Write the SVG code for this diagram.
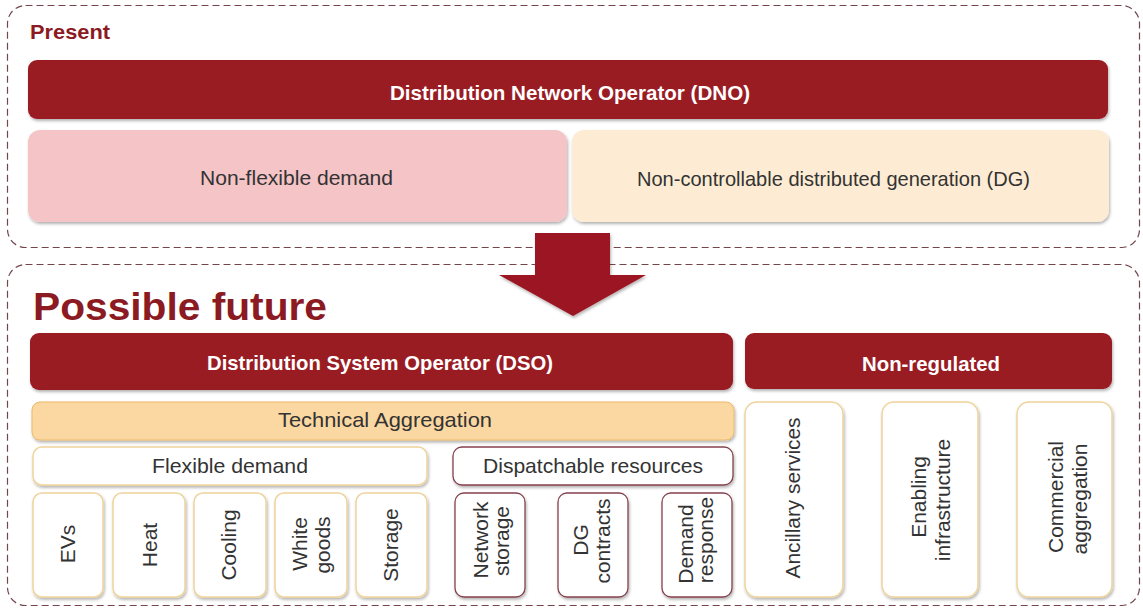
<svg xmlns="http://www.w3.org/2000/svg" width="1143" height="609" viewBox="0 0 1143 609">
  <defs>
    <filter id="shadow" x="-5%" y="-10%" width="110%" height="130%">
      <feDropShadow dx="1" dy="2" stdDeviation="1.5" flood-color="#000" flood-opacity="0.3"/>
    </filter>
  </defs>
  <style>
    text { font-family: "Liberation Sans", Arial, sans-serif; }
    .frame { fill: #ffffff; stroke: #74464c; stroke-width: 1.2; stroke-dasharray: 7 4; }
    .bar { fill: #991a21; filter: url(#shadow); }
    .bar-label { fill: #ffffff; font-size: 20.5px; font-weight: bold; }
    .heading { fill: #8c1a22; font-weight: bold; }
    .pink { fill: #f5c4c6; filter: url(#shadow); }
    .cream { fill: #fdecd3; filter: url(#shadow); }
    .agg { fill: #fbd8a1; stroke: #ecb968; stroke-width: 1; filter: url(#shadow); }
    .tan { fill: #ffffff; stroke: #efd49c; stroke-width: 1.5; filter: url(#shadow); }
    .mauve { fill: #ffffff; stroke: #85424f; stroke-width: 1.3; filter: url(#shadow); }
    .label { fill: #333333; font-size: 21px; }
    .vlabel { fill: #333333; font-size: 21px; text-anchor: middle; }
    .arrow { fill: #9b1720; filter: url(#shadow); }
  </style>

  <!-- Present section -->
  <g id="present">
    <rect class="frame" x="7.5" y="5.5" width="1132" height="242" rx="18"/>
    <text class="heading" x="30" y="39" font-size="20" textLength="80" lengthAdjust="spacingAndGlyphs">Present</text>
  </g>
  <g id="dno">
    <rect class="bar" x="28" y="60" width="1080" height="59" rx="9"/>
    <text class="bar-label" x="390" y="100" textLength="360" lengthAdjust="spacingAndGlyphs">Distribution Network Operator (DNO)</text>
  </g>
  <g id="non-flexible-demand">
    <rect class="pink" x="28" y="130" width="539" height="92" rx="12"/>
    <text class="label" x="200" y="185" textLength="193" lengthAdjust="spacingAndGlyphs">Non-flexible demand</text>
  </g>
  <g id="non-controllable-dg">
    <rect class="cream" x="572" y="130" width="537" height="92" rx="12"/>
    <text class="label" x="637" y="186" textLength="393" lengthAdjust="spacingAndGlyphs">Non-controllable distributed generation (DG)</text>
  </g>

  <!-- Possible future section -->
  <g id="future">
    <rect class="frame" x="7.5" y="264.5" width="1132" height="341" rx="18"/>
    <text class="heading" x="33" y="320" font-size="38" textLength="294" lengthAdjust="spacingAndGlyphs">Possible future</text>
  </g>

  <!-- Transition arrow -->
  <g id="connectors">
    <polygon class="arrow" points="535,233 610,233 610,275 646,275 573,316 499,275 535,275"/>
  </g>

  <g id="dso">
    <rect class="bar" x="30" y="333" width="703" height="57" rx="9"/>
    <text class="bar-label" x="207" y="370" textLength="346" lengthAdjust="spacingAndGlyphs">Distribution System Operator (DSO)</text>
  </g>
  <g id="non-regulated">
    <rect class="bar" x="745" y="333" width="367" height="56" rx="9"/>
    <text class="bar-label" x="862" y="371" textLength="138" lengthAdjust="spacingAndGlyphs">Non-regulated</text>
  </g>

  <g id="technical-aggregation">
    <rect class="agg" x="32" y="402" width="702" height="38" rx="8"/>
    <text class="label" x="278" y="427" textLength="214" lengthAdjust="spacingAndGlyphs">Technical Aggregation</text>
  </g>

  <g id="flexible-demand">
    <rect class="tan" x="33" y="447" width="394" height="38" rx="9"/>
    <text class="label" x="152" y="473" textLength="156" lengthAdjust="spacingAndGlyphs">Flexible demand</text>
  </g>
  <g id="evs">
    <rect class="tan" x="33" y="493" width="70" height="104" rx="9"/>
    <text class="vlabel" transform="translate(75 544) rotate(-90)">EVs</text>
  </g>
  <g id="heat">
    <rect class="tan" x="113" y="493" width="72" height="104" rx="9"/>
    <text class="vlabel" transform="translate(157 545) rotate(-90)">Heat</text>
  </g>
  <g id="cooling">
    <rect class="tan" x="194" y="493" width="72" height="104" rx="9"/>
    <text class="vlabel" transform="translate(236 545) rotate(-90)">Cooling</text>
  </g>
  <g id="white-goods">
    <rect class="tan" x="275" y="493" width="72" height="104" rx="9"/>
    <text class="vlabel" transform="translate(307 544) rotate(-90)">White</text>
    <text class="vlabel" transform="translate(330 545) rotate(-90)">goods</text>
  </g>
  <g id="storage">
    <rect class="tan" x="356" y="493" width="71" height="104" rx="9"/>
    <text class="vlabel" transform="translate(398 545) rotate(-90)">Storage</text>
  </g>

  <g id="dispatchable-resources">
    <rect class="mauve" x="453" y="447" width="280" height="38" rx="9"/>
    <text class="label" x="483" y="473" textLength="220" lengthAdjust="spacingAndGlyphs">Dispatchable resources</text>
  </g>
  <g id="network-storage">
    <rect class="mauve" x="455" y="493" width="70" height="104" rx="9"/>
    <text class="vlabel" transform="translate(488 540) rotate(-90)">Network</text>
    <text class="vlabel" transform="translate(509 541) rotate(-90)">storage</text>
  </g>
  <g id="dg-contracts">
    <rect class="mauve" x="558" y="493" width="70" height="104" rx="9"/>
    <text class="vlabel" transform="translate(588 540) rotate(-90)">DG</text>
    <text class="vlabel" transform="translate(610 541) rotate(-90)">contracts</text>
  </g>
  <g id="demand-response">
    <rect class="mauve" x="662" y="493" width="70" height="104" rx="9"/>
    <text class="vlabel" transform="translate(693 544) rotate(-90)">Demand</text>
    <text class="vlabel" transform="translate(713 540) rotate(-90)">response</text>
  </g>

  <g id="ancillary-services">
    <rect class="tan" x="745" y="402" width="98" height="195" rx="12"/>
    <text class="vlabel" transform="translate(800 498) rotate(-90)" textLength="161" lengthAdjust="spacingAndGlyphs">Ancillary services</text>
  </g>
  <g id="enabling-infrastructure">
    <rect class="tan" x="882" y="402" width="96" height="195" rx="12"/>
    <text class="vlabel" transform="translate(926 497) rotate(-90)">Enabling</text>
    <text class="vlabel" transform="translate(950 500) rotate(-90)">infrastructure</text>
  </g>
  <g id="commercial-aggregation">
    <rect class="tan" x="1017" y="402" width="95" height="195" rx="12"/>
    <text class="vlabel" transform="translate(1063 497) rotate(-90)">Commercial</text>
    <text class="vlabel" transform="translate(1087 499) rotate(-90)">aggregation</text>
  </g>
</svg>
